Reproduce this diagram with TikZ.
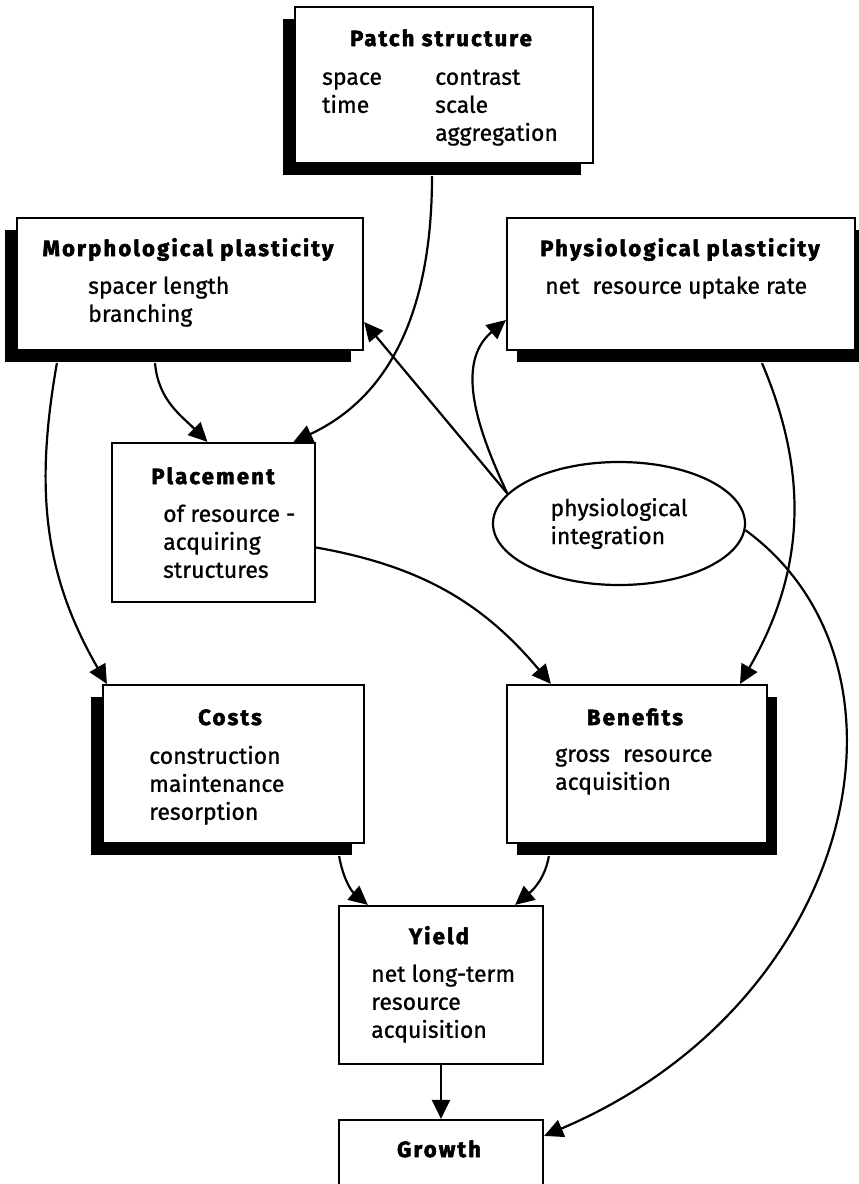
\documentclass[tikz,border=0pt]{standalone}
\usepackage{fontspec}
\setmainfont{Fira Sans}[UprightFeatures={FakeBold=0.8}, BoldFeatures={FakeBold=2.5}]
\usepackage{tikz}
\usetikzlibrary{shapes,arrows.meta,shadows}
\tikzstyle{box}=[draw, line width=2.2pt, fill=white, inner sep=0pt]
\tikzstyle{shadow left}=[drop shadow={shadow xshift=-12pt, shadow yshift=-12pt, fill=black, opacity=1}]
\tikzstyle{shadow right}=[drop shadow={shadow xshift=10pt, shadow yshift=-12pt, fill=black, opacity=1}]
\tikzstyle{title}=[font=\fontsize{22}{28}\selectfont\bfseries\addfontfeatures{LetterSpace=10}, inner sep=0pt, anchor=base]
\tikzstyle{body}=[font=\fontsize{23}{28}\selectfont, align=left, inner sep=0pt, anchor=north west]
\tikzstyle{link}=[-{Triangle[length=19pt,width=18pt]}, line width=2.2pt]

\begin{document}
\begin{tikzpicture}[x=1pt, y=-1pt]
        \useasboundingbox (0,0) rectangle (859,1184);

        % Patch structure
        \node[box, shadow left, minimum width=298pt, minimum height=156pt] (patch) at (444,85) {};
        \node[title] (patch_t) at (441,46) {Patch structure};
        \node[body] (patch_a) at (322,65) {\strut space\\time};
        \node[body] (patch_b) at (435,65) {\strut contrast\\scale\\aggregation};

        % Plasticity
        \node[box, shadow left, minimum width=346pt, minimum height=132pt] (morph) at (190,284) {};
        \node[title] (morph_t) at (188,256) {Morphological plasticity};
        \node[body] (morph_b) at (88,274) {\strut spacer length\\branching};
        \node[box, shadow right, minimum width=348pt, minimum height=132pt] (physio) at (681,284) {};
        \node[title] (physio_t) at (680,256) {Physiological plasticity};
        \node[body] (physio_b) at (545,274) {\strut net\hspace{0.3em} resource uptake rate};

        % Placement and integration
        \node[box, minimum width=203pt, minimum height=159pt] (place) at (213.5,522.5) {};
        \node[title] (place_t) at (213,484) {Placement};
        \node[body] (place_b) at (163,502) {\strut of resource -\\acquiring\\structures};
        \node[draw, ellipse, line width=2.2pt, minimum width=252pt, minimum height=123pt, inner sep=0pt,
              font=\fontsize{23}{28}\selectfont, align=left] (integ) at (619,523.5) {physiological\\integration};

        % Costs and benefits
        \node[box, shadow left, minimum width=261pt, minimum height=158pt] (costs) at (233.5,764) {};
        \node[title] (costs_t) at (230,725) {Costs};
        \node[body] (costs_b) at (149,744) {\strut construction\\maintenance\\resorption};
        \node[box, shadow right, minimum width=260pt, minimum height=158pt] (bene) at (637,764) {};
        \node[title] (bene_t) at (635,725) {Benefits};
        \node[body] (bene_b) at (555,742) {\strut gross\hspace{0.3em} resource\\acquisition};

        % Yield and growth
        \node[box, minimum width=204pt, minimum height=158pt] (yield) at (441,985) {};
        \node[title] (yield_t) at (439,944) {Yield};
        \node[body] (yield_b) at (371,962) {\strut net long-term\\resource\\acquisition};
        \node[box, minimum width=204pt, minimum height=160pt] (growth) at (441,1200) {};
        \node[title] (growth_t) at (439,1157) {Growth};

        % Connectors
        \draw[link] ([xshift=-12pt,yshift=-12pt]patch.south) to[out=-90,in=25] ([xshift=80pt]place.north);
        \draw[link] ([xshift=-35pt,yshift=-12pt]morph.south) to[out=-85,in=135] ([xshift=-6pt]place.north);
        \draw[link] ([xshift=41pt,yshift=-12pt]morph.south west) to[out=-100,in=120] ([xshift=5pt]costs.north west);
        \draw[link] (integ.165) -- ([yshift=-38pt]morph.east);
        \draw[link] (integ.165) to[out=115,in=-140] ([yshift=-36pt]physio.west);
        \draw[link] ([xshift=81pt,yshift=-12pt]physio.south) to[out=-67,in=60] ([xshift=103pt]bene.north);
        \draw[link] ([yshift=-25pt]place.east) to[out=-10,in=130] ([xshift=45pt]bene.north west);
        \draw[link] (integ.-3) .. controls +(186,136) and +(313,-133) .. ([yshift=-17pt]growth.north east);
        \draw[link] ([xshift=-26pt,yshift=-12pt]costs.south east) to[out=-80,in=140] ([xshift=30pt]yield.north west);
        \draw[link] ([xshift=43pt,yshift=-12pt]bene.south west) to[out=-100,in=40] ([xshift=-29pt]yield.north east);
        \draw[link] (yield.south) -- (growth.north);
\end{tikzpicture}
\end{document}
